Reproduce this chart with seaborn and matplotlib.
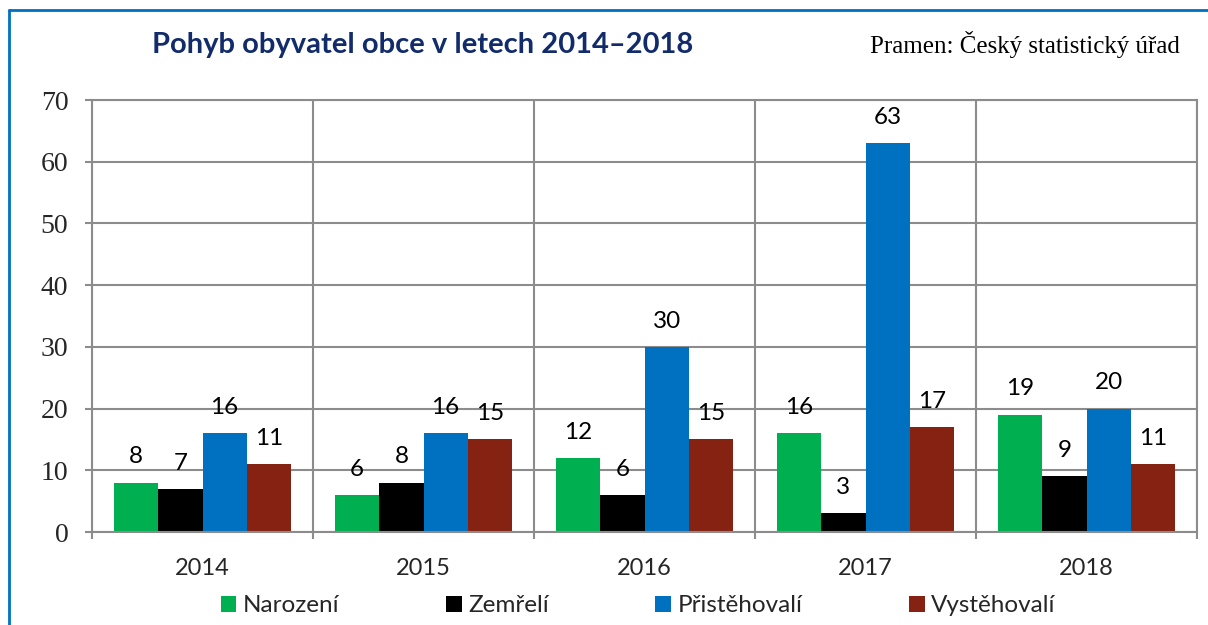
import pandas as pd
import numpy as np
import matplotlib
matplotlib.use("Agg")
import matplotlib.pyplot as plt
from matplotlib.lines import Line2D
import seaborn as sns

# =========================================
#                 DATA
# =========================================
roky = ["2014", "2015", "2016", "2017", "2018"]
narozeni = [8, 6, 12, 16, 19]
zemreli = [7, 8, 6, 3, 9]
pristehovali = [16, 16, 30, 63, 20]
vystehovali = [11, 15, 15, 17, 11]

skupiny = ["Narození", "Zemřelí", "Přistěhovalí", "Vystěhovalí"]
barvy = ["#00B050", "#000000", "#0070C0", "#862211"]

data = pd.DataFrame({
    "rok": roky * 4,
    "pocet": narozeni + zemreli + pristehovali + vystehovali,
    "typ": [s for s in skupiny for _ in roky],
})

# =========================================
#                 PLOT
# =========================================
sns.set_theme(style="white")
plt.rcParams["font.family"] = ["Lato", "DejaVu Sans"]

fig = plt.figure(figsize=(12.08, 6.25), dpi=100)
ax = fig.add_axes([92 / 1208, 1 - 532 / 625, (1197 - 92) / 1208, (532 - 100) / 625])

sns.barplot(data=data, x="rok", y="pocet", hue="typ", palette=barvy,
            width=0.8, ax=ax, saturation=1, legend=True, linewidth=0)

for cont in ax.containers:
    ax.bar_label(cont, padding=11, fontsize=17.5, color="black")

grid_c = "#8C8C8C"
ax.set_xlim(-0.5, 4.5)
ax.set_ylim(0, 70)
ax.set_yticks(range(0, 71, 10))
ax.set_xticks(np.arange(-0.5, 5, 1), minor=True)
ax.grid(axis="y", color=grid_c, linewidth=1.5)
ax.grid(axis="x", which="minor", color=grid_c, linewidth=1.5)
ax.set_axisbelow(True)
for s in ax.spines.values():
    s.set_color(grid_c)
    s.set_linewidth(1.5)

ax.tick_params(axis="y", length=5, width=1.5, color=grid_c, pad=12,
               labelsize=20, left=True)
ax.tick_params(axis="x", which="major", length=0, pad=19, labelsize=17)
ax.tick_params(axis="x", which="minor", length=5, width=1.5, color=grid_c, bottom=True)
for lab in ax.get_yticklabels():
    lab.set_fontfamily("Liberation Serif")
ax.set_xlabel("")
ax.set_ylabel("")

h, l = ax.get_legend_handles_labels()
ax.legend_.remove()
fig.legend(h, l, loc="center", bbox_to_anchor=(638 / 1208, 1 - 606 / 625),
           ncol=4, frameon=False, fontsize=17.5, handlelength=0.65,
           handleheight=0.65, handletextpad=0.25, columnspacing=4.4)

fig.text(423 / 1208, 1 - 45 / 625, "Pohyb obyvatel obce v letech 2014–2018",
         ha="center", va="center", fontsize=21, fontweight="bold", color="#112B6B")
fig.text(1180 / 1208, 1 - 45 / 625, "Pramen: Český statistický úřad",
         ha="right", va="center", fontsize=18, family="Liberation Serif", color="black")

# blue frame (left + top)
fig.add_artist(Line2D([8.5 / 1208, 8.5 / 1208], [0, 1 - 10 / 625], color="#0070C0",
                      linewidth=2, transform=fig.transFigure))
fig.add_artist(Line2D([8.5 / 1208, 1], [1 - 10 / 625, 1 - 10 / 625], color="#0070C0",
                      linewidth=2, transform=fig.transFigure))

fig.savefig("out.png", dpi=100)
